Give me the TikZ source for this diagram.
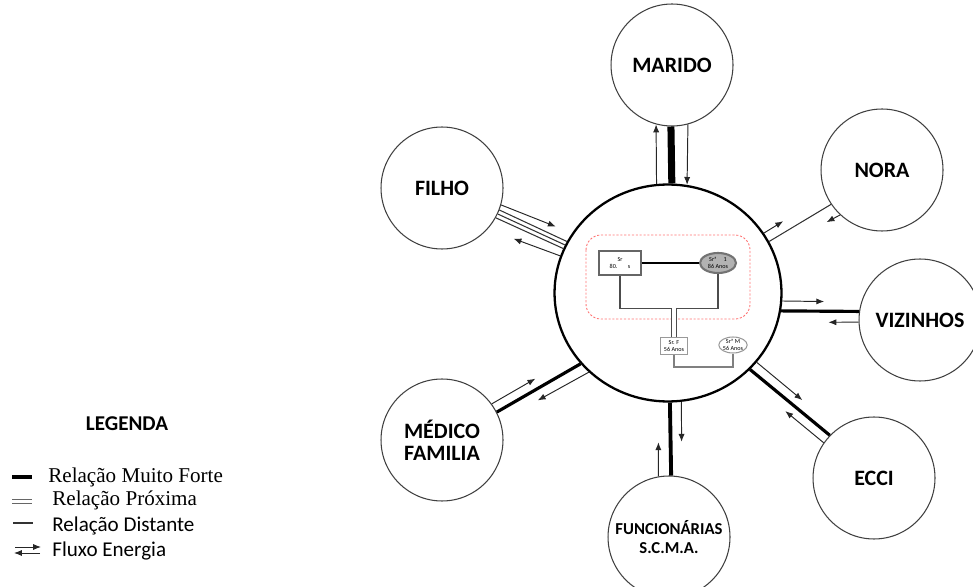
\documentclass[tikz,border=0pt]{standalone}
\usepackage{fontspec}
\setmainfont{Carlito}
\newfontfamily\timesfont{Liberation Serif}
\usetikzlibrary{arrows.meta}
\usetikzlibrary{shapes.geometric}

\begin{document}
\begin{tikzpicture}[x=0.02cm,y=-0.02cm,
    pessoa/.style={circle,draw=black!75,line width=0.6pt,minimum size=2.44cm,inner sep=0pt,align=center,font=\fontsize{12.5}{12.5}\selectfont\bfseries},
    forte/.style={line width=1.8pt},
    distante/.style={black!80,line width=0.6pt},
    fluxo/.style={black!85,line width=0.55pt,-{Latex[length=4.5pt,width=3.5pt]}},
    caixa/.style={rectangle,draw=black!60,line width=0.8pt,inner sep=0pt,align=center,font=\fontsize{3.5}{4}\selectfont},
    oval/.style={ellipse,draw=black!55,inner sep=0pt,align=center,font=\fontsize{3.5}{4}\selectfont},
    legtxt/.style={anchor=west,inner sep=0pt,font=\fontsize{12}{14}\selectfont}]
    \useasboundingbox (0,0) rectangle (973,587);

    \node[ellipse,draw,line width=1.3pt,minimum width=4.54cm,minimum height=4.34cm,inner sep=0pt] (centro) at (668,293) {};
    \node[pessoa] (marido) at (672,65) {MARIDO};
    \node[pessoa] (filho) at (442,188) {FILHO};
    \node[pessoa] (nora) at (882,170) {NORA};
    \node[pessoa] (vizinhos) at (920,320) {VIZINHOS};
    \node[pessoa] (ecci) at (874,478) {ECCI};
    \node[pessoa,font=\fontsize{9.5}{11.3}\selectfont\bfseries] (func) at (669,537) {FUNCIONÁRIAS\\S.C.M.A.};
    \node[pessoa] (medico) at (442,440) {MÉDICO\\FAMILIA};

    % marido
    \draw[line width=4pt] (centro.88) -- (marido.-91);
    \draw[fluxo] (centro.96) -- (marido.-105);
    \draw[fluxo] (marido.-75) -- (centro.80);
    % filho
    \draw[distante] (centro.153) -- (filho.-21);
    \draw[distante] (centro.155) -- (filho.-25);
    \draw[distante] (centro.157) -- (filho.-29);
    \draw[fluxo,shorten >=0.35cm] (filho.-16) -- (centro.148);
    \draw[fluxo,shorten >=0.55cm] (centro.161) -- (filho.-42);
    % nora
    \draw[distante] (centro.27) -- (nora.-146);
    \draw[fluxo,shorten >=1cm] (centro.32) -- (nora.-156);
    \draw[fluxo,shorten >=1.2cm] (nora.-133) -- (centro.22);
    % vizinhos
    \draw[forte] (centro.-9) -- (vizinhos.172);
    \draw[fluxo,shorten >=0.74cm] (centro.-4) -- (vizinhos.163);
    \draw[fluxo,shorten >=1cm] (vizinhos.-178) -- (centro.-15);
    % ecci
    \draw[forte] (centro.-43) -- (ecci.136);
    \draw[fluxo,shorten >=0.9cm] (centro.-38) -- (ecci.127);
    \draw[fluxo,shorten >=1.1cm] (ecci.145) -- (centro.-48);
    % funcionarias
    \draw[line width=2.2pt] (centro.-89) -- (func.88);
    \draw[fluxo,shorten >=0.8cm] (func.100) -- (centro.-95);
    \draw[fluxo,shorten >=0.7cm] (centro.-83) -- (func.78);
    % medico
    \draw[forte] (centro.-141) -- (medico.27);
    \draw[fluxo,shorten >=0.9cm] (medico.36) -- (centro.-146);
    \draw[fluxo,shorten >=0.85cm] (centro.-135) -- (medico.18);

    % genograma
    \draw[red!55,line width=0.5pt,dash pattern=on 1.2pt off 1pt,rounded corners=0.3cm] (586,235) rectangle (750,319);
    \node[caixa,minimum width=0.84cm,minimum height=0.48cm] (sr) at (620,263) {Sr\\80.\hspace{6pt}s};
    \node[oval,fill=black!30,line width=1.2pt,minimum width=0.72cm,minimum height=0.4cm] (sra) at (718,263) {Srª\hspace{4pt}1\\86 Anos};
    \draw[line width=1.2pt] (sr) -- (sra);
    \draw[black!70,line width=0.8pt] (sr.south) -- ++(0,33) -| (sra.south);
    \coordinate (casal) at (674,308);
    \node[caixa,draw=black!40,line width=0.6pt,minimum width=0.54cm,minimum height=0.34cm] (srf) at (674,346) {Sr. F\\56 Anos};
    \node[oval,draw=black!40,line width=0.6pt,minimum width=0.48cm,minimum height=0.32cm] (sram) at (733,345) {Srª M\\56 Anos};
    \draw[black!70,line width=0.5pt,double,double distance=2pt] (casal) -- (srf);
    \draw[black!50,line width=0.6pt] (srf.south) -- ++(0,12) -| (sram.south);

    % legenda
    \node[font=\fontsize{12}{14}\selectfont\bfseries] (legenda) at (127,424) {LEGENDA};
    \draw[line width=2pt] (12,477) -- (32,477);
    \node[legtxt,font=\timesfont\fontsize{12}{14}\selectfont] (muito) at (48,477) {Relação Muito Forte};
    \draw[black!60,line width=0.5pt] (12,499) -- (32,499) (12,503) -- (32,503);
    \node[legtxt,font=\timesfont\fontsize{12}{14}\selectfont] (proxima) at (52,500) {Relação Próxima};
    \draw[distante] (13,523) -- (33,523);
    \node[legtxt] (distlab) at (52,526) {Relação Distante};
    \draw[fluxo] (15,547) -- (41,547);
    \draw[fluxo] (40,553) -- (14,553);
    \node[legtxt] (energia) at (52,551) {Fluxo Energia};
\end{tikzpicture}
\end{document}
